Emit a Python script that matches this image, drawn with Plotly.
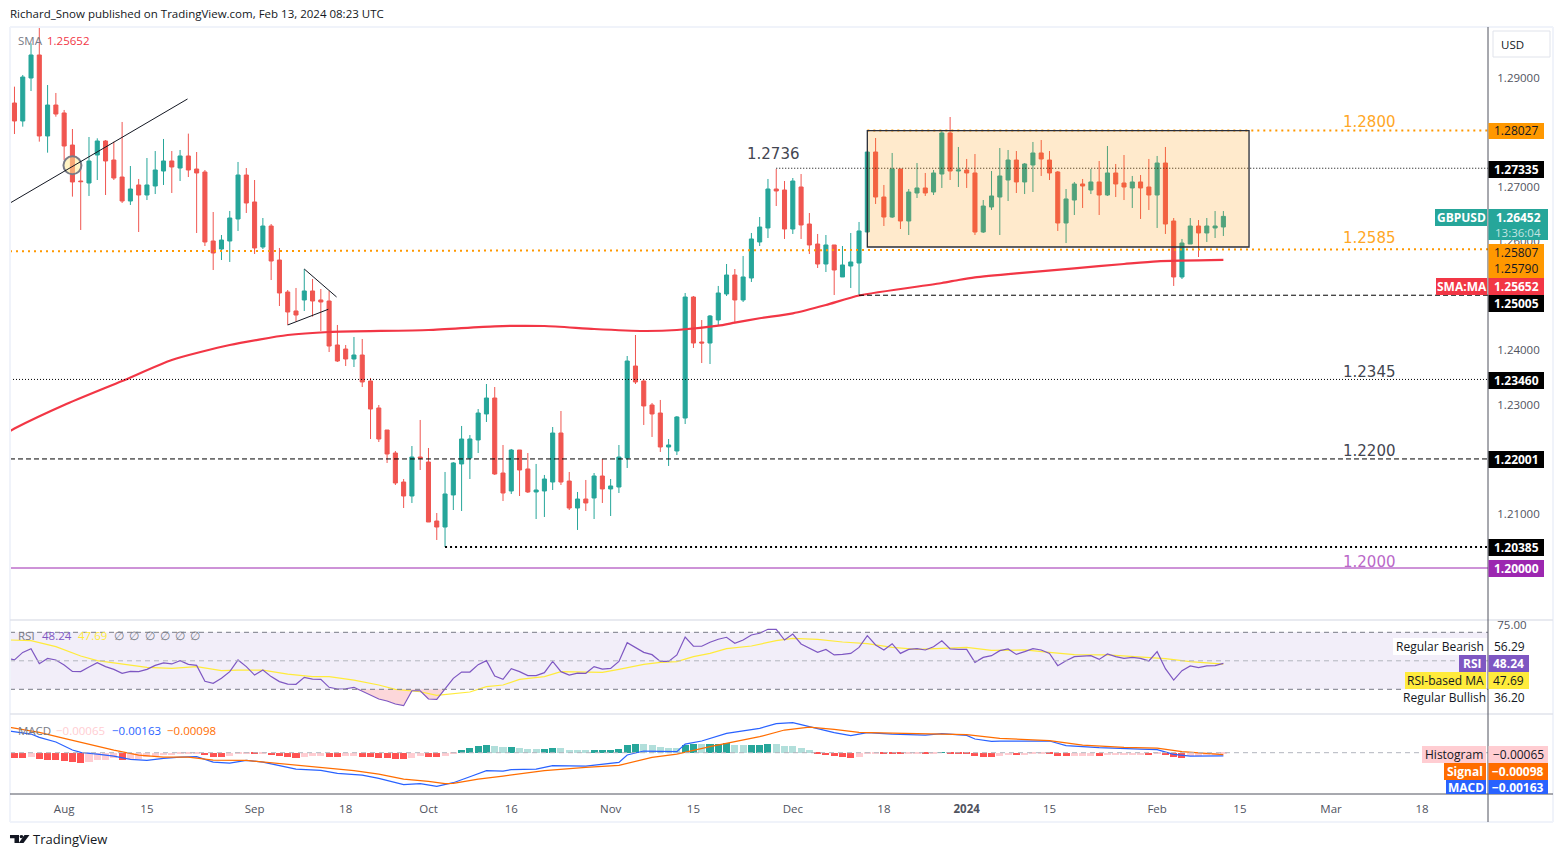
import plotly.graph_objects as go

W, H = 1564, 857
FONT = "Open Sans"
BIG_FONT = "DejaVu Sans"

direction = ("rggrgrrrrg" "grrrgrgggr" "grrrrgggrr" "grrrrgrrrr" "rgrrrrrrgr"
             "rrggggggrr" "grrgggrrgr" "grgggrrrrg" "ggrrgggrgg" "ggrrgrrrgr"
             "ggggrrgrgg" "rggrgrrggg" "grggrrrggr" "grgrrgrrgr" "rggrggg")

high = [1.28832,1.29046,1.29627,1.29933,1.28862,1.28716,1.28404,1.28055,1.27425,1.27908,
        1.27884,1.27853,1.27823,1.28184,1.27376,1.27138,1.27523,1.27651,1.27872,1.27651,
        1.27670,1.27970,1.27633,1.27303,1.26532,1.26110,1.26551,1.27450,1.27339,1.27119,
        1.26422,1.26312,1.25872,1.25101,1.25138,1.25486,1.25303,1.25119,1.25083,1.24459,
        1.24092,1.24239,1.24202,1.23486,1.22991,1.22532,1.22147,1.21633,1.22238,1.22716,
        1.22202,1.21009,1.21762,1.21945,1.22606,1.22440,1.22917,1.23376,1.23321,1.22257,
        1.22184,1.22165,1.22110,1.21909,1.21707,1.22587,1.22881,1.21762,1.21395,1.21615,
        1.21743,1.22000,1.21633,1.22257,1.23890,1.24275,1.23468,1.23028,1.23083,1.22367,
        1.22789,1.25046,1.24991,1.24550,1.24642,1.25175,1.25578,1.25486,1.25725,1.26147,
        1.26440,1.27138,1.27321,1.27101,1.27156,1.27229,1.26514,1.26129,1.26110,1.25927,
        1.25908,1.26147,1.26349,1.27633,1.27890,1.27028,1.27615,1.27321,1.26954,1.27431,
        1.27248,1.27303,1.28037,1.28275,1.27725,1.27505,1.27596,1.26752,1.27284,1.27706,
        1.27670,1.27651,1.27431,1.27817,1.27853,1.27651,1.27284,1.26954,1.27083,1.27138,
        1.27321,1.27468,1.27743,1.27413,1.27578,1.27193,1.27211,1.27505,1.27560,1.27725,
        1.26422,1.26037,1.26422,1.26385,1.26422,1.26550,1.26550]
low = [1.27963,1.28098,1.28752,1.27823,1.27621,1.28281,1.27486,1.26814,1.26202,1.26826,
       1.27119,1.26844,1.27119,1.26697,1.26661,1.26165,1.26752,1.26862,1.27028,1.26881,
       1.27101,1.27174,1.26147,1.25908,1.25468,1.25651,1.25615,1.26184,1.26514,1.25762,
       1.25853,1.25284,1.24807,1.24459,1.24520,1.24716,1.24612,1.24349,1.23963,1.23780,
       1.23706,1.23688,1.23321,1.22367,1.22312,1.21927,1.21523,1.21101,1.21193,1.21798,
       1.20844,1.20514,1.20385,1.21064,1.21046,1.21633,1.22110,1.22679,1.21707,1.21229,
       1.21358,1.21321,1.21376,1.20899,1.20936,1.21431,1.21523,1.21064,1.20698,1.21046,
       1.20899,1.21193,1.20954,1.21376,1.21835,1.23376,1.22624,1.22404,1.22129,1.21872,
       1.22073,1.22642,1.24037,1.23761,1.23743,1.24459,1.24991,1.24514,1.24881,1.25248,
       1.25908,1.26055,1.26642,1.26037,1.26129,1.26037,1.25762,1.25505,1.25431,1.25009,
       1.25340,1.25138,1.25005,1.26165,1.26679,1.26275,1.26422,1.26220,1.26110,1.26789,
       1.26826,1.26844,1.26973,1.27119,1.26991,1.26973,1.26110,1.26147,1.26569,1.26110,
       1.26734,1.26881,1.26862,1.26899,1.27193,1.27119,1.26184,1.25963,1.26477,1.26606,
       1.26862,1.26477,1.26826,1.26807,1.26752,1.26606,1.26404,1.26569,1.26239,1.26129,
       1.25175,1.25303,1.25945,1.25706,1.25982,1.26055,1.26092]
body_high = [1.28532,1.29009,1.29413,1.29413,1.28495,1.28495,1.28349,1.27761,1.27101,1.27468,
             1.27835,1.27835,1.27486,1.27174,1.26954,1.27028,1.27028,1.27303,1.27468,1.27468,
             1.27560,1.27560,1.27321,1.27266,1.26000,1.26018,1.26422,1.27211,1.27211,1.26716,
             1.26275,1.26275,1.25651,1.25064,1.24716,1.25083,1.25083,1.24918,1.24899,1.24092,
             1.24018,1.23908,1.23908,1.23431,1.22936,1.22532,1.22110,1.21578,1.22036,1.22036,
             1.21945,1.20862,1.21358,1.21927,1.22367,1.22367,1.22844,1.23119,1.23119,1.21743,
             1.22165,1.22165,1.21817,1.21431,1.21633,1.22477,1.22477,1.21596,1.21266,1.21266,
             1.21688,1.21688,1.21505,1.22036,1.23798,1.23706,1.23431,1.22991,1.22844,1.22257,
             1.22771,1.24972,1.24972,1.24147,1.24624,1.25046,1.25376,1.25376,1.25340,1.26037,
             1.26257,1.26954,1.26954,1.26936,1.27101,1.26991,1.26312,1.25945,1.25927,1.25927,
             1.25560,1.25615,1.26184,1.27633,1.27633,1.26807,1.27321,1.27321,1.26899,1.26973,
             1.26973,1.27248,1.27982,1.27982,1.27303,1.27303,1.27248,1.26642,1.26826,1.27193,
             1.27486,1.27486,1.27413,1.27615,1.27615,1.27486,1.27266,1.26771,1.27046,1.27046,
             1.27083,1.27083,1.27248,1.27248,1.27064,1.27083,1.27083,1.26991,1.27431,1.27431,
             1.26367,1.25963,1.26275,1.26275,1.26275,1.26275,1.26452]
body_low = [1.28202,1.28202,1.28991,1.27927,1.27927,1.28330,1.27743,1.27083,1.27089,1.27064,
            1.27578,1.27468,1.27156,1.26734,1.26734,1.26844,1.26844,1.27009,1.27284,1.27358,
            1.27339,1.27303,1.27248,1.25982,1.25780,1.25853,1.26000,1.26404,1.26697,1.25872,
            1.25890,1.25633,1.25046,1.24697,1.24642,1.24918,1.24899,1.24881,1.24073,1.23798,
            1.23835,1.23835,1.23413,1.22917,1.22367,1.22092,1.21560,1.21321,1.21321,1.22018,
            1.20844,1.20752,1.20752,1.21340,1.21909,1.22018,1.22349,1.22826,1.21725,1.21376,
            1.21413,1.21798,1.21395,1.21395,1.21413,1.21578,1.21578,1.21101,1.21101,1.21193,
            1.21285,1.21450,1.21450,1.21486,1.22018,1.23413,1.22973,1.22826,1.22220,1.22220,
            1.22147,1.22752,1.24128,1.24128,1.24128,1.24551,1.25028,1.24918,1.24918,1.25321,
            1.25982,1.26239,1.26918,1.26220,1.26220,1.26294,1.25927,1.25578,1.25578,1.25468,
            1.25340,1.25541,1.25596,1.26165,1.26807,1.26440,1.26440,1.26367,1.26367,1.26881,
            1.26881,1.26899,1.27229,1.27284,1.27284,1.27248,1.26165,1.26165,1.26624,1.26807,
            1.27119,1.27083,1.27083,1.27394,1.27505,1.27248,1.26330,1.26330,1.26752,1.27009,
            1.26936,1.26844,1.26844,1.27046,1.26991,1.26973,1.26973,1.26844,1.26844,1.26312,
            1.25340,1.25340,1.25945,1.26147,1.26147,1.26239,1.26257]

sma_idx = [-0.54,0,6,13,19,26,33,38,50,58,64,70,76,80,85,87,90,94,98,102,112,114,116,121,128,134,138,146]
sma_val = [1.22514,1.22560,1.22991,1.23431,1.23817,1.24092,1.24275,1.24330,1.24367,1.24435,1.24440,1.24385,
           1.24349,1.24367,1.24446,1.24502,1.24582,1.24673,1.24826,1.25000,1.25229,1.25285,1.25333,
           1.25407,1.25498,1.25578,1.25627,1.25652]

rsi_before_first_bar = 51.3
rsi = [50.6,55.9,58.5,48.0,51.7,50.6,47.1,42.6,42.4,45.7,48.7,45.9,44.0,41.2,42.6,42.4,44.0,46.8,48.5,47.8,
       50.1,47.5,46.8,35.6,34.2,37.7,42.4,50.6,45.9,40.0,43.5,38.9,35.4,33.7,33.5,38.4,37.2,37.0,31.4,30.2,
       30.4,31.4,28.8,25.8,23.2,21.8,19.7,18.5,29.0,29.0,23.2,23.0,30.7,37.7,42.1,42.1,47.3,50.1,39.3,37.0,
       44.5,42.4,39.6,39.6,41.7,49.6,42.4,40.0,41.4,41.2,45.9,44.2,44.7,49.6,62.7,59.4,55.9,54.3,49.6,49.6,
       54.1,66.7,60.2,60.2,63.0,65.1,66.5,62.3,64.6,68.1,69.3,72.1,72.1,64.6,68.8,61.8,58.8,55.9,58.0,54.1,
       54.5,55.2,59.4,67.6,61.1,57.6,62.0,55.2,58.0,58.5,57.6,59.9,64.1,58.3,58.0,58.0,48.9,52.4,53.6,57.1,
       58.3,54.5,56.4,58.5,57.6,55.2,46.6,50.1,52.9,53.4,53.6,51.0,54.8,52.9,51.7,52.4,51.7,49.9,56.4,44.5,
       36.5,43.1,46.4,45.2,46.4,46.6,48.24]

rsi_ma_idx = [-0.54,2,5,8,10,13,16,19,22,25,27,30,33,36,38,41,44,46,49,51,53,55,57,59,61,64,66,68,71,73,76,78,80,
              82,84,86,89,92,94,97,100,103,106,109,112,115,118,122,125,128,132,136,139,142,146]
rsi_ma_val = [64.6,64.1,59.9,53.4,50.1,47.8,45.4,44.7,45.9,43.1,43.5,43.5,40.7,38.9,38.9,36.5,33.0,30.0,28.3,
              25.8,26.7,28.1,31.9,33.0,37.0,38.9,42.4,42.4,41.9,44.0,47.5,48.9,49.4,52.9,55.2,58.5,60.4,64.1,
              65.8,65.1,63.2,62.0,59.4,58.0,58.8,59.4,57.3,57.6,55.9,54.3,54.1,52.9,51.5,49.4,47.69]

macd_idx = [-0.54,2,3,5,7,8,10,12,14,16,18,20,22,24,26,28,30,32,34,37,39,42,44,47,49,51,53,55,57,59,60,63,65,69,
            73,74,76,80,81,83,86,90,92,94,96,99,101,103,106,110,112,115,116,118,119,125,127,131,136,138,140,142,146]
macd_val = [.01083,.00933,.00767,.00533,.00133,.00017,-.00067,-.00167,-.00333,-.00383,-.00283,-.00217,-.00200,
            -.00467,-.00517,-.00383,-.00467,-.00633,-.00817,-.00883,-.01033,-.01117,-.01283,-.01600,-.01550,
            -.01683,-.01500,-.01200,-.00900,-.00917,-.00850,-.00817,-.00650,-.00667,-.00483,-.00117,.00083,
            .00050,.00433,.00583,.00967,.01217,.01450,.01500,.01300,.01000,.00850,.01000,.00933,.00883,.00950,
            .00867,.00683,.00567,.00583,.00583,.00350,.00250,.00183,.00150,-.00083,-.00167,-.00163]

signal_idx = [-0.54,3,6,9,12,15,18,21,24,28,31,34,38,41,44,47,50,52,53,56,59,64,69,73,77,80,84,90,93,96,99,102,106,
              110,115,119,125,129,134,138,141,146]
signal_val = [.01267,.01017,.00717,.00417,.00133,-.00117,-.00217,-.00217,-.00367,-.00383,-.00500,-.00650,-.00783,
              -.00900,-.01067,-.01317,-.01433,-.01550,-.01533,-.01317,-.01167,-.00900,-.00733,-.00633,-.00233,
              -.00067,.00300,.00800,.01133,.01283,.01167,.01017,.00983,.00933,.00900,.00717,.00600,.00383,.00267,
              .00233,.00050,-.00098]

hist = [-.00267,-.00267,-.00217,-.00317,-.00367,-.00367,-.00417,-.00467,-.00517,-.00467,
        -.00367,-.00367,-.00267,-.00367,-.00317,-.00317,-.00217,-.00167,-.00117,-.00117,
        -.00067,-.00067,-.00050,-.00117,-.00200,-.00200,-.00167,-.00083,-.00033,-.00067,
        -.00050,-.00117,-.00167,-.00200,-.00267,-.00217,-.00167,-.00167,-.00200,-.00217,
        -.00183,-.00167,-.00200,-.00217,-.00267,-.00267,-.00317,-.00317,-.00267,-.00167,
        -.00217,-.00217,-.00167,-.00033,.00133,.00233,.00333,.00383,.00333,.00283,
        .00283,.00233,.00183,.00183,.00183,.00233,.00233,.00133,.00133,.00133,
        .00133,.00133,.00133,.00183,.00383,.00433,.00433,.00383,.00283,.00233,
        .00233,.00383,.00433,.00433,.00433,.00433,.00483,.00383,.00383,.00383,
        .00383,.00433,.00433,.00333,.00333,.00233,.00133,-.00067,-.00117,-.00167,
        -.00217,-.00267,-.00217,-.00067,-.00067,-.00067,-.00067,-.00067,-.00067,-.00067,
        -.00067,-.00067,.00033,-.00050,-.00050,-.00067,-.00167,-.00217,-.00217,-.00167,
        -.00117,-.00117,-.00117,-.00067,-.00067,-.00067,-.00167,-.00167,-.00167,-.00167,
        -.00167,-.00167,-.00117,-.00117,-.00117,-.00117,-.00117,-.00117,-.00067,-.00117,
        -.00217,-.00267,-.00167,-.00167,-.00117,-.00117,-.00065]
hist_state = ("RRPRRRRRRP" "PPPRPPPPPP" "PPPRRRPPPR" "PRRRRPPPRR" "PPRRRRRRPP"
              "RRPPGGGGLL" "GLLLGGLLLL" "GGGGGGLLLL" "LGGLGGGLLG" "GGLLLLLRRR"
              "RRPPPRRRPP" "RPGRRRRRRP" "PRPPPRRRPP" "PRPPPPPRPR" "RRPPPPP")

tick_idx = [6,16,29,40,50,60,72,82,94,105,115,125,138,148,159,170]
tick_text = ["Aug","15","Sep","18","Oct","16","Nov","15","Dec","18","<b>2024</b>","15","Feb","15","Mar","18"]
price_ticks = [1.21,1.23,1.24,1.26,1.27,1.29]

level_top = 1.28027
level_mid_left, level_mid_right = 1.25811, 1.25850
level_1273 = 1.27335
level_1250 = 1.25005
level_1234 = 1.23460
level_1220 = 1.22001
level_1203 = 1.20385
level_1200 = 1.20000
box_low, box_high = 1.25890, 1.28024
trend_a = ([-0.46, 20.9], [1.26703, 1.28606])
tri_a = ([35, 38.9], [1.25486, 1.24973])
tri_b = ([33, 37.9], [1.24459, 1.24747])

n = len(high)
idx = list(range(n))
opens = [bl if d == "g" else bh for d, bh, bl in zip(direction, body_high, body_low)]
closes = [bh if d == "g" else bl for d, bh, bl in zip(direction, body_high, body_low)]

XL, XR = -0.54, 177.96


def px(x):
    return x / W


def py(y):
    return 1 - y / H


fig = go.Figure()

# SMA under the candles
fig.add_trace(go.Scatter(x=sma_idx, y=sma_val, mode="lines", line=dict(color="#F23645", width=2.2, shape="spline", smoothing=0.6), hoverinfo="skip"))
fig.add_trace(go.Candlestick(x=idx, open=opens, high=high, low=low, close=closes,
                             increasing=dict(line=dict(color="#26a69a", width=1), fillcolor="#26a69a"),
                             decreasing=dict(line=dict(color="#f05650", width=1), fillcolor="#f05650"),
                             whiskerwidth=0, hoverinfo="skip"))
fig.add_trace(go.Scatter(x=[7], y=[1.27389], mode="markers",
                         marker=dict(size=18, color="rgba(255,235,150,0.55)", line=dict(color="#787b86", width=2)),
                         hoverinfo="skip"))

# RSI pane
rsi_low = [min(v, 30) for v in rsi]
fig.add_trace(go.Scatter(x=idx, y=[30] * n, mode="lines", line=dict(width=0), yaxis="y2", hoverinfo="skip"))
fig.add_trace(go.Scatter(x=idx, y=rsi_low, mode="lines", line=dict(width=0), fill="tonexty",
                         fillcolor="rgba(242,54,69,0.2)", yaxis="y2", hoverinfo="skip"))
fig.add_trace(go.Scatter(x=rsi_ma_idx, y=rsi_ma_val, mode="lines", line=dict(color="#ffeb3b", width=1.2), yaxis="y2", hoverinfo="skip"))
fig.add_trace(go.Scatter(x=[XL] + idx, y=[rsi_before_first_bar] + rsi, mode="lines", line=dict(color="#7e57c2", width=1.2), yaxis="y2", hoverinfo="skip"))

# MACD pane
state_col = {"R": "#ff5252", "P": "#ffcdd2", "G": "#26a69a", "L": "#b2dfdb"}
fig.add_trace(go.Bar(x=idx, y=hist, marker=dict(color=[state_col[s] for s in hist_state], line=dict(width=0)),
                     width=0.85, yaxis="y3", hoverinfo="skip"))
fig.add_trace(go.Scatter(x=macd_idx, y=macd_val, mode="lines", line=dict(color="#2962ff", width=1.2), yaxis="y3", hoverinfo="skip"))
fig.add_trace(go.Scatter(x=signal_idx, y=signal_val, mode="lines", line=dict(color="#ff6d00", width=1.2), yaxis="y3", hoverinfo="skip"))

shapes = []


def lvl(x0, x1, y0, y1, color, width, dash, yref="y"):
    shapes.append(dict(type="line", xref="x", yref=yref, x0=x0, x1=x1, y0=y0, y1=y1,
                       line=dict(color=color, width=width, dash=dash)))


def frame(x0, y0, x1, y1, color, width=1):
    shapes.append(dict(type="line", xref="paper", yref="paper", x0=px(x0), x1=px(x1), y0=py(y0), y1=py(y1),
                       line=dict(color=color, width=width)))


def poly(points, color):
    path = "M " + " L ".join(f"{px(a):.5f} {py(b):.5f}" for a, b in points) + " Z"
    shapes.append(dict(type="path", xref="paper", yref="paper", path=path, fillcolor=color, line=dict(width=0)))


# RSI bands
shapes.append(dict(type="rect", xref="x", yref="y2", x0=XL, x1=XR, y0=30, y1=70, fillcolor="rgba(126,87,194,0.1)",
                   line=dict(width=0), layer="below"))
lvl(XL, XR, 70, 70, "#787b86", 1, "5px,4px", "y2")
lvl(XL, XR, 50, 50, "#b2b5be", 1, "5px,4px", "y2")
lvl(XL, XR, 30, 30, "#787b86", 1, "5px,4px", "y2")
lvl(XL, XR, 0, 0, "#b2b5be", 1, "5px,4px", "y3")

# price levels
lvl(103, XR, level_top, level_top, "#ff9800", 2, "2px,4px")
lvl(XL, XR, level_mid_left, level_mid_right, "#ff9800", 2, "2px,4px")
lvl(92, XR, level_1273, level_1273, "#000000", 1, "1px,2px")
lvl(102, XR, level_1250, level_1250, "#000000", 1, "5px,3px")
lvl(XL, XR, level_1234, level_1234, "#000000", 1, "1px,2px")
lvl(XL, XR, level_1220, level_1220, "#000000", 1, "5px,3px")
lvl(52, XR, level_1203, level_1203, "#000000", 2, "2px,3px")
lvl(XL, XR, level_1200, level_1200, "#9c27b0", 1, "solid")

# drawings
lvl(trend_a[0][0], trend_a[0][1], trend_a[1][0], trend_a[1][1], "#131722", 1, "solid")
lvl(tri_a[0][0], tri_a[0][1], tri_a[1][0], tri_a[1][1], "#131722", 1, "solid")
lvl(tri_b[0][0], tri_b[0][1], tri_b[1][0], tri_b[1][1], "#131722", 1, "solid")
shapes.append(dict(type="rect", xref="x", yref="y", x0=103, x1=149.1, y0=box_low, y1=box_high,
                   fillcolor="rgba(255,152,0,0.2)", line=dict(color="#2a2e39", width=1.3)))

# frame of the whole widget
frame(10, 27, 1553, 27, "#f0f3fa", 2)
frame(10, 822, 1553, 822, "#f0f3fa", 2)
frame(10, 27, 10, 822, "#f0f3fa", 2)
frame(1553, 27, 1553, 822, "#f0f3fa", 2)
frame(10, 620, 1553, 620, "#e0e3eb", 1.5)
frame(10, 714, 1553, 714, "#e0e3eb", 1.5)
frame(10, 794, 1553, 794, "#50535e", 1)
frame(1488, 27, 1488, 822, "#50535e", 1)
shapes.append(dict(type="rect", xref="paper", yref="paper", x0=px(1493), x1=px(1550), y0=py(57), y1=py(31),
                   line=dict(color="#e0e3eb", width=1), fillcolor="#ffffff"))

# TradingView logo mark
poly([(10, 835), (19, 835), (19, 843), (14.5, 843), (14.5, 838.3), (10, 838.3)], "#131722")
poly([(24.5, 835), (29.5, 835), (23.5, 843), (18.8, 843)], "#131722")
poly([(20.2, 835.3), (22.2, 834.9), (23.6, 836.5), (22.2, 838.3), (20.2, 837.9), (19.6, 836.5)], "#131722")

annotations = []


def label(x, y, text, color="#131722", size=12, anchor="left", bold=False, family=FONT):
    annotations.append(dict(xref="paper", yref="paper", x=px(x), y=py(y), text=f"<b>{text}</b>" if bold else text,
                            showarrow=False, xanchor=anchor, yanchor="middle", borderpad=0, borderwidth=0,
                            font=dict(family=family, size=size, color=color)))


def tag(x0, x1, y0, y1, text, bg, fg, bold=False, size=12):
    shapes.append(dict(type="rect", xref="paper", yref="paper", x0=px(x0), x1=px(x1), y0=py(y1), y1=py(y0),
                       fillcolor=bg, line=dict(width=0)))
    if text:
        label((x0 + x1) / 2, (y0 + y1) / 2, text, fg, size, "center", bold)


label(10, 14, "Richard_Snow published on TradingView.com, Feb 13, 2024 08:23 UTC", "#131722", 11.5)
label(33, 839, "TradingView", "#131722", 13)
label(18, 41, "SMA", "#787b86", 11.5)
label(47, 41, "1.25652", "#f23645", 11.5)
label(18, 635, "RSI", "#787b86", 11.5)
label(42, 635, "48.24", "#7e57c2", 11.5)
label(78, 635, "47.69", "#ffeb3b", 11.5)
for glyph_x in (119, 134, 150, 165, 180, 195):
    label(glyph_x, 635, "∅", "#787b86", 11.5, "center")
label(18, 730, "MACD", "#787b86", 11.5)
label(56, 730, "−0.00065", "#ffcdd2", 11.5)
label(112, 730, "−0.00163", "#2962ff", 11.5)
label(167, 730, "−0.00098", "#ff6d00", 11.5)
label(1512, 44, "USD", "#131722", 11.5, "center")

label(773, 154, "1.2736", "#434651", 15, "center", family=BIG_FONT)
label(1369, 122, "1.2800", "#ffa726", 15, "center", family=BIG_FONT)
label(1369, 238, "1.2585", "#ffa726", 15, "center", family=BIG_FONT)
label(1369, 372, "1.2345", "#434651", 15, "center", family=BIG_FONT)
label(1369, 451, "1.2200", "#434651", 15, "center", family=BIG_FONT)
label(1369, 562, "1.2000", "#ba68c8", 15, "center", family=BIG_FONT)

tag(1488.5, 1544, 123, 139, "1.28027", "#ff9800", "#131722")
tag(1488.5, 1544, 161, 178, "1.27335", "#000000", "#ffffff", True)
tag(1435, 1487, 209, 226, "GBPUSD", "#26a69a", "#ffffff", True)
tag(1488.5, 1548, 209, 240, "", "#26a69a", "#ffffff")
label(1518, 217, "1.26452", "#ffffff", 12, "center", True)
label(1518, 232, "13:36:04", "rgba(255,255,255,0.72)", 11.5, "center")
tag(1488.5, 1544, 244, 278, "", "#ff9800", "#131722")
label(1516, 252, "1.25807", "#131722", 12, "center")
label(1516, 269, "1.25790", "#131722", 12, "center")
tag(1436, 1487, 278, 295, "SMA:MA", "#f23645", "#ffffff", True)
tag(1488.5, 1544, 278, 295, "1.25652", "#f23645", "#ffffff", True)
tag(1488.5, 1544, 295, 312, "1.25005", "#000000", "#ffffff", True)
tag(1488.5, 1544, 372, 389, "1.23460", "#000000", "#ffffff", True)
tag(1488.5, 1544, 451, 468, "1.22001", "#000000", "#ffffff", True)
tag(1488.5, 1544, 539, 556, "1.20385", "#000000", "#ffffff", True)
tag(1488.5, 1544, 560, 577, "1.20000", "#9c27b0", "#ffffff", True)

tag(1393, 1487, 638, 655, "Regular Bearish", "#ffffff", "#131722")
label(1509, 646, "56.29", "#131722", 12, "center")
tag(1459, 1486, 655, 672, "RSI", "#7e57c2", "#ffffff", True)
tag(1488.5, 1529, 655, 672, "48.24", "#7e57c2", "#ffffff", True)
tag(1405, 1486, 672, 689, "RSI-based MA", "#ffeb3b", "#131722")
tag(1488.5, 1529, 672, 689, "47.69", "#ffeb3b", "#131722")
tag(1402, 1487, 689, 706, "Regular Bullish", "#ffffff", "#131722")
label(1509, 697, "36.20", "#131722", 12, "center")

tag(1422, 1486, 746, 763, "Histogram", "#ffcdd2", "#131722")
tag(1488.5, 1548, 746, 763, "−0.00065", "#ffcdd2", "#131722")
tag(1444, 1486, 763, 780, "Signal", "#ff6d00", "#ffffff", True)
tag(1488.5, 1548, 763, 780, "−0.00098", "#ff6d00", "#ffffff", True)
tag(1446, 1486, 780, 794, "MACD", "#2962ff", "#ffffff", True)
tag(1488.5, 1548, 780, 794, "−0.00163", "#2962ff", "#ffffff", True)

axis_font = dict(family=FONT, size=11.5, color="#50535e")

fig.update_layout(
    width=W, height=H, margin=dict(l=0, r=0, t=0, b=0, pad=0, autoexpand=False), paper_bgcolor="#ffffff",
    plot_bgcolor="rgba(0,0,0,0)", showlegend=False, bargap=0, barmode="overlay", shapes=shapes,
    annotations=annotations, hovermode=False,
    xaxis=dict(domain=[px(10), px(1488)], range=[XL, XR], anchor="y3", tickmode="array", tickvals=tick_idx, ticktext=tick_text,
               showgrid=False, zeroline=False, showline=False, ticks="outside", ticklen=4, tickcolor="rgba(0,0,0,0)",
               tickfont=axis_font, rangeslider=dict(visible=False), tickangle=0, automargin=False),
    yaxis=dict(domain=[py(620), py(28)], range=[1.29 - (620 - 77.5) / 5450, 1.29 + (77.5 - 28) / 5450], side="right", anchor="x",
               tickmode="array", tickvals=price_ticks, ticktext=[f"{v:.5f}" for v in price_ticks], showgrid=False, zeroline=False,
               showline=False, ticks="outside", ticklen=6, tickcolor="rgba(0,0,0,0)", tickfont=axis_font, automargin=False),
    yaxis2=dict(domain=[py(714), py(621)], range=[12.67, 77.93], side="right", anchor="x", tickmode="array", tickvals=[75],
                ticktext=["75.00"], showgrid=False, zeroline=False, showline=False, ticks="outside", ticklen=6,
                tickcolor="rgba(0,0,0,0)", tickfont=axis_font, automargin=False),
    yaxis3=dict(domain=[py(794), py(715)], range=[-.02065, .01885], side="right", anchor="x", showticklabels=False, showgrid=False,
                zeroline=False, showline=False, automargin=False),
)

fig.write_html("out.html", config={"displayModeBar": False}, post_script="document.body.style.margin='0';")
